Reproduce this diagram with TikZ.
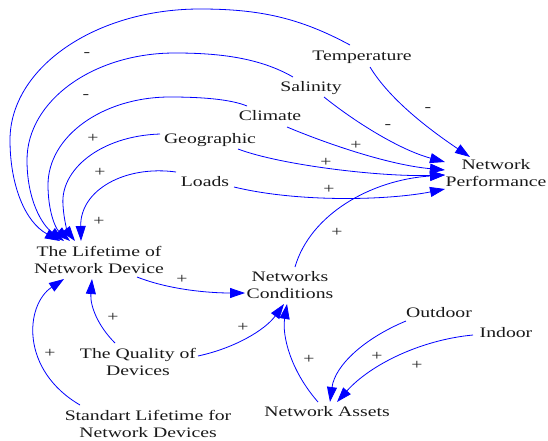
\documentclass[tikz,border=0pt]{standalone}
\usepackage{fontspec}
\setmainfont{Liberation Serif}[FakeStretch=1.36]
\usetikzlibrary{arrows.meta}
\begin{document}
\begin{tikzpicture}[x=1pt,y=-1pt,
  var/.style={font=\fontsize{14.5}{17}\selectfont, inner sep=1pt, align=center, text=black!90},
  arr/.style={draw=blue, line width=0.8pt, -{Triangle[length=15pt,width=10pt]}, fill=none},
  pm/.style={font=\fontsize{14.5}{17}\selectfont, inner sep=0pt, text=black!85}]
\useasboundingbox (0,0) rectangle (548,441);
% variables
\node[var, anchor=base] (temp) at (362,61) {Temperature};
\node[var, anchor=base] (sal) at (311,92) {Salinity};
\node[var, anchor=base] (clim) at (270,121) {Climate};
\node[var, anchor=base] (geo) at (210,143) {Geographic};
\node[var, anchor=base] (loads) at (205,186) {Loads};
\node[var] (perf) at (496,173) {Network\\Performance};
\node[var] (life) at (99,260) {The Lifetime of\\Network Device};
\node[var] (cond) at (290,285) {Networks\\Conditions};
\node[var, anchor=base] (out) at (439,317) {Outdoor};
\node[var, anchor=base] (ind) at (506,337) {Indoor};
\node[var] (qual) at (138,362) {The Quality of\\Devices};
\node[var, anchor=base] (assets) at (327,416) {Network Assets};
\node[var] (std) at (148,424) {Standart Lifetime for\\Network Devices};
% connectors to lifetime
\draw[arr] ([shift={(-12,-16)}]temp.base) .. controls (300,18) and (260,9) .. (200,9)
  .. controls (95,9) and (10,68) .. (10,140) .. controls (10,185) and (25,222) .. ([shift={(-39,-19)}]life.center);
\draw[arr] ([shift={(-18,-15)}]sal.base) .. controls (260,58) and (220,53) .. (175,53)
  .. controls (93,53) and (27,101) .. (27,160) .. controls (27,200) and (42,225) .. ([shift={(-35,-19)}]life.center);
\draw[arr] ([shift={(-23,-15)}]clim.base) .. controls (230,99) and (200,97) .. (170,97)
  .. controls (103,97) and (48,136) .. (48,185) .. controls (48,210) and (55,228) .. ([shift={(-29,-19)}]life.center);
\draw[arr] ([shift={(-50,-9)}]geo.base) .. controls (100,136) and (60,170) .. (63,205)
  .. controls (64,222) and (68,232) .. ([shift={(-24,-19)}]life.center);
\draw[arr] ([shift={(-29,-14)}]loads.base) .. controls (125,165) and (80,190) .. ([shift={(-18,-19)}]life.center);
% connectors to performance
\draw[arr] ([shift={(8,6)}]temp.base) .. controls (390,100) and (430,130) .. ([shift={(-26,-16)}]perf.center);
\draw[arr] ([shift={(13,5)}]sal.base) .. controls (355,122) and (400,150) .. ([shift={(-51,-11)}]perf.center);
\draw[arr] ([shift={(17,6)}]clim.base) .. controls (330,145) and (390,165) .. ([shift={(-51,-3)}]perf.center);
\draw[arr] ([shift={(28,6)}]geo.base) .. controls (280,165) and (380,177) .. ([shift={(-51,2)}]perf.center);
\draw[arr] ([shift={(29,1)}]loads.base) .. controls (300,203) and (390,200) .. ([shift={(-51,16)}]perf.center);
\draw[arr] ([shift={(5,-18)}]cond.center) .. controls (310,215) and (370,180) .. ([shift={(-51,2)}]perf.center);
% lower part
\draw[arr] ([shift={(38,17)}]life.center) .. controls (170,290) and (210,293) .. ([shift={(-45,8)}]cond.center);
\draw[arr] ([shift={(-23,-19)}]qual.center) .. controls (97,325) and (90,305) .. ([shift={(-7,19)}]life.center);
\draw[arr] ([shift={(60,-6)}]qual.center) .. controls (235,348) and (265,330) .. ([shift={(-6,19)}]cond.center);
\draw[arr] ([shift={(-68,-19)}]std.center) .. controls (20,370) and (25,305) .. ([shift={(-35,19)}]life.center);
\draw[arr] ([shift={(-9,-14)}]assets.base) .. controls (290,370) and (282,335) .. ([shift={(-3,19)}]cond.center);
\draw[arr] ([shift={(-33,4)}]out.base) .. controls (365,338) and (335,365) .. ([shift={(3,-14)}]assets.base);
\draw[arr] ([shift={(-33,-2)}]ind.base) .. controls (420,340) and (370,365) .. ([shift={(10,-14)}]assets.base);
% polarity labels
\node[pm] (p1) at (87,55) {-};
\node[pm] (p2) at (86,97) {-};
\node[pm] (p3) at (93,138) {+};
\node[pm] (p4) at (100,172) {+};
\node[pm] (p5) at (99,221) {+};
\node[pm] (p6) at (428,110) {-};
\node[pm] (p7) at (388,127) {-};
\node[pm] (p8) at (356,145) {+};
\node[pm] (p9) at (326,162) {+};
\node[pm] (p10) at (329,189) {+};
\node[pm] (p11) at (337,232) {+};
\node[pm] (p12) at (182,279) {+};
\node[pm] (p13) at (113,317) {+};
\node[pm] (p14) at (243,327) {+};
\node[pm] (p15) at (50,353) {+};
\node[pm] (p16) at (309,359) {+};
\node[pm] (p17) at (377,356) {+};
\node[pm] (p18) at (417,365) {+};
\end{tikzpicture}
\end{document}
